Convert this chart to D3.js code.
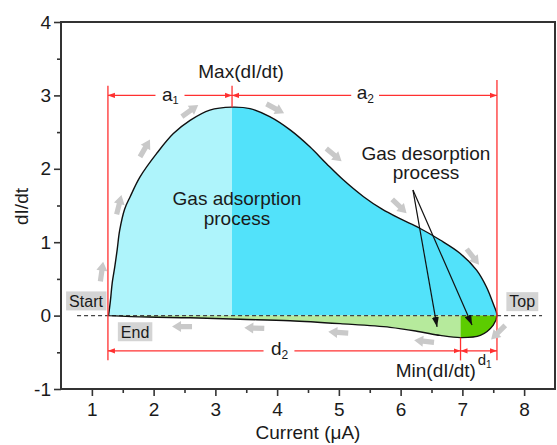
<!DOCTYPE html>
<html>
<head>
<meta charset="utf-8">
<title>dI/dt vs Current</title>
<script src="https://cdn.jsdelivr.net/npm/d3@7"></script>
<style>
    body { margin: 0; background: #fff; }
    svg { display: block; font-family: "Liberation Sans", Arial, sans-serif; }
</style>
</head>
<body>
<svg id="chart" width="557" height="445"></svg>
<script>
// upper branch of the loop (dI/dt > 0), Start -> Max -> Top
var upperX = [1.27, 1.30, 1.33, 1.37, 1.41, 1.45, 1.53, 1.62, 1.78, 2.05, 2.32, 2.59, 2.91, 3.27,
              3.56, 3.88, 4.21, 4.53, 4.80, 5.07, 5.40, 5.70, 5.99, 6.31, 6.64, 6.96, 7.23, 7.39, 7.50, 7.56];
var upperY = [0.00, 0.20, 0.45, 0.66, 0.90, 1.16, 1.45, 1.62, 1.89, 2.21, 2.48, 2.66, 2.80, 2.84,
              2.82, 2.71, 2.53, 2.30, 2.07, 1.85, 1.62, 1.45, 1.32, 1.19, 1.03, 0.85, 0.62, 0.39, 0.16, 0.00];
// lower branch (dI/dt < 0), Top -> Min -> End
var lowerX = [7.56, 7.50, 7.29, 6.97, 6.64, 6.31, 5.83, 5.02, 4.21, 3.40, 2.59, 1.90, 1.27];
var lowerY = [0.00, -0.13, -0.27, -0.30, -0.27, -0.22, -0.16, -0.11, -0.07, -0.05, -0.03, -0.02, 0.00];

// key points of the loop
var startX = 1.26, maxX = 3.27, minX = 6.97, topX = 7.56;
var maxY = 2.84, minY = -0.30;

var xTicks = [1, 2, 3, 4, 5, 6, 7, 8];
var yTicks = [-1, 0, 1, 2, 3, 4];

// gray flow arrows along the loop (data units, direction in degrees)
var flowX = [1.16, 1.44, 1.86, 2.59, 3.97, 4.92, 5.98, 7.17, 7.58, 6.38, 4.99, 3.63, 2.46];
var flowY = [0.60, 1.51, 2.28, 2.79, 2.82, 2.19, 1.49, 0.80, -0.23, -0.35, -0.23, -0.17, -0.15];
var flowAngle = [-82, -76, -60, -35, 28, 40, 44, 52, 135, 186, 184, 182, 180];
</script>
<script>
    var width = 557, height = 445;
    var svg = d3.select("#chart");

    var x = d3.scaleLinear().domain([0.5, 8.5]).range([61, 555]);
    var y = d3.scaleLinear().domain([-1, 4]).range([389, 22]);

    var upper = upperX.map((v, i) => [v, upperY[i]]);
    var lower = lowerX.map((v, i) => [v, lowerY[i]]);

    var defs = svg.append("defs");

    // clip rects to split the fills at Max and Min
    function clip(id, x0, x1) {
        defs.append("clipPath").attr("id", id)
          .append("rect")
            .attr("x", x0).attr("y", 0)
            .attr("width", x1 - x0).attr("height", height);
    }
    clip("cl-left", 0, x(maxX));
    clip("cl-right", x(maxX), width);
    clip("cl-gleft", 0, x(minX));
    clip("cl-gright", x(minX), width);

    // red arrow head
    defs.append("marker")
        .attr("id", "redhead")
        .attr("markerUnits", "userSpaceOnUse")
        .attr("viewBox", "0 0 8 6")
        .attr("refX", 8).attr("refY", 3)
        .attr("markerWidth", 7).attr("markerHeight", 6)
        .attr("orient", "auto-start-reverse")
      .append("path")
        .attr("d", "M0,0 L8,3 L0,6 Z")
        .attr("fill", "#ff3030");

    // black arrow head
    defs.append("marker")
        .attr("id", "blackhead")
        .attr("markerUnits", "userSpaceOnUse")
        .attr("viewBox", "0 0 10 7")
        .attr("refX", 10).attr("refY", 3.5)
        .attr("markerWidth", 10).attr("markerHeight", 7)
        .attr("orient", "auto")
      .append("path")
        .attr("d", "M0,0 L10,3.5 L0,7 Z")
        .attr("fill", "#111");

    var curve = d3.curveCatmullRom.alpha(0.5);
    var areaUp = d3.area().x(d => x(d[0])).y0(y(0)).y1(d => y(d[1])).curve(curve);
    var line = d3.line().x(d => x(d[0])).y(d => y(d[1])).curve(curve);

    // fills
    svg.append("path").attr("d", areaUp(upper)).attr("fill", "#aef4fb").attr("clip-path", "url(#cl-left)");
    svg.append("path").attr("d", areaUp(upper)).attr("fill", "#52e2fa").attr("clip-path", "url(#cl-right)");
    svg.append("path").attr("d", areaUp(lower)).attr("fill", "#b6ea9c").attr("clip-path", "url(#cl-gleft)");
    svg.append("path").attr("d", areaUp(lower)).attr("fill", "#5ccc00").attr("clip-path", "url(#cl-gright)");

    // dashed zero line
    svg.append("line")
        .attr("x1", x(0.76)).attr("x2", x(8.29))
        .attr("y1", y(0)).attr("y2", y(0))
        .attr("stroke", "#444").attr("stroke-width", 1.2)
        .attr("stroke-dasharray", "4,3");

    // loop outline
    svg.append("path")
        .attr("d", line(upper.concat(lower.slice(1))))
        .attr("fill", "none")
        .attr("stroke", "#111")
        .attr("stroke-width", 1.4)
        .attr("stroke-linejoin", "round");

    // red dimension lines
    var red = svg.append("g").attr("stroke", "#ff3030").attr("stroke-width", 1.3).attr("fill", "none");
    function vline(xv, y0, y1) {
        red.append("line").attr("x1", x(xv)).attr("x2", x(xv)).attr("y1", y(y0)).attr("y2", y(y1));
    }
    function hseg(x0, x1, yv, headStart, headEnd) {
        red.append("line")
            .attr("x1", x(x0)).attr("x2", x(x1)).attr("y1", y(yv)).attr("y2", y(yv))
            .attr("marker-start", headStart ? "url(#redhead)" : null)
            .attr("marker-end", headEnd ? "url(#redhead)" : null);
    }
    vline(startX, 3.13, -0.61);
    vline(topX, 3.21, -0.61);
    vline(maxX, 3.13, maxY);
    vline(minX, minY, -0.61);

    var aY = 3.0, dY = -0.48;
    hseg(startX, 2.03, aY, true, false);
    hseg(2.50, maxX, aY, false, true);
    hseg(maxX, 5.20, aY, true, false);
    hseg(5.65, topX, aY, false, true);
    hseg(startX, 3.78, dY, true, false);
    hseg(4.28, minX, dY, false, true);
    hseg(minX, topX, dY, true, true);

    // gray flow arrows
    svg.append("g").selectAll("path")
        .data(flowX.map((v, i) => ({x: v, y: flowY[i], a: flowAngle[i]})))
        .join("path")
        .attr("d", "M-10,-2.6 L1,-2.6 L1,-5.5 L10,0 L1,5.5 L1,2.6 L-10,2.6 Z")
        .attr("transform", d => `translate(${x(d.x)},${y(d.y)}) rotate(${d.a})`)
        .attr("fill", "#c9c9c9");

    // black pointers from the desorption label
    var ptrFrom = [6.20, 1.71];
    var ptrTo = [[6.59, -0.155], [7.156, -0.128]];
    svg.append("g").selectAll("line")
        .data(ptrTo)
        .join("line")
        .attr("x1", x(ptrFrom[0])).attr("y1", y(ptrFrom[1]))
        .attr("x2", d => x(d[0])).attr("y2", d => y(d[1]))
        .attr("stroke", "#111").attr("stroke-width", 1.2)
        .attr("marker-end", "url(#blackhead)");

    var txt = svg.append("g").attr("fill", "#1a1a1a").attr("text-anchor", "middle");

    // gray label boxes
    [["Start", 0.905, 0.20], ["End", 1.70, -0.22], ["Top", 7.97, 0.19]].forEach(function(b) {
        var g = txt.append("g");
        var t = g.append("text")
            .attr("x", x(b[1])).attr("y", y(b[2]))
            .attr("dy", "0.36em")
            .style("font-size", "16px")
            .text(b[0]);
        var bb = t.node().getBBox();
        g.insert("rect", "text")
            .attr("x", bb.x - 3).attr("y", y(b[2]) - 9.5)
            .attr("width", bb.width + 6).attr("height", 19)
            .attr("fill", "#d4d4d4");
    });

    function label(s, xv, yv, size) {
        return txt.append("text")
            .attr("x", x(xv)).attr("y", y(yv))
            .style("font-size", (size || 19) + "px")
            .text(s);
    }
    label("Max(dI/dt)", 3.415, 3.237);
    label("Min(dI/dt)", 6.57, -0.837);
    label("Gas adsorption", 3.35, 1.507);
    label("process", 3.35, 1.234);
    label("Gas desorption", 6.41, 2.12);
    label("process", 6.41, 1.861);

    function sub(main, s, xv, yv, size, subSize, shift) {
        var t = txt.append("text")
            .attr("x", x(xv)).attr("y", y(yv))
            .style("font-size", size + "px");
        t.append("tspan").text(main);
        t.append("tspan").style("font-size", subSize + "px").attr("dy", shift).text(s);
    }
    sub("a", "1", 2.27, 2.93, 19, 11, 3);
    sub("a", "2", 5.43, 2.95, 19, 12, 4);
    sub("d", "2", 4.04, -0.537, 19, 12, 4);
    sub("d", "1", 7.36, -0.673, 15, 10, 3);

    // axes
    var fmt = d3.format("d");
    var xAxis = svg.append("g")
        .attr("transform", `translate(0,${y(-1)})`)
        .call(d3.axisBottom(x).tickValues(xTicks).tickSize(7).tickPadding(7).tickFormat(fmt));
    svg.append("g")
        .attr("transform", `translate(0,${y(-1)})`)
        .call(d3.axisBottom(x).tickValues(xTicks.map(v => v + 0.5).filter(v => v < 8.5)).tickSize(4).tickFormat(""));
    svg.append("g")
        .attr("transform", `translate(0,${y(-1)})`)
        .call(d3.axisBottom(x).tickValues([0.5]).tickSize(0).tickFormat(""));

    var yAxis = svg.append("g")
        .attr("transform", `translate(${x(0.5)},0)`)
        .call(d3.axisLeft(y).tickValues(yTicks).tickSize(7).tickPadding(3).tickFormat(d => d < 0 ? "-" + Math.abs(d) : d));
    svg.append("g")
        .attr("transform", `translate(${x(0.5)},0)`)
        .call(d3.axisLeft(y).tickValues(yTicks.slice(0, -1).map(v => v + 0.5)).tickSize(4).tickFormat(""));

    svg.selectAll(".domain").remove();
    svg.selectAll(".tick line").attr("stroke", "#333").attr("stroke-width", 1.6);
    svg.selectAll(".tick text")
        .attr("fill", "#1a1a1a")
        .style("font-size", "19px")
        .style("font-family", "'Liberation Sans', Arial, sans-serif");

    // frame
    svg.append("rect")
        .attr("x", x(0.5)).attr("y", y(4))
        .attr("width", x(8.5) - x(0.5)).attr("height", y(-1) - y(4))
        .attr("fill", "none")
        .attr("stroke", "#333").attr("stroke-width", 2);

    // axis titles
    txt.append("text")
        .attr("transform", `translate(28,${(y(4) + y(-1)) / 2 + 1}) rotate(-90)`)
        .style("font-size", "19px")
        .text("dI/dt");
    txt.append("text")
        .attr("x", (x(0.5) + x(8.5)) / 2).attr("y", 439)
        .style("font-size", "19px")
        .text("Current (μA)");
</script>
</body>
</html>
